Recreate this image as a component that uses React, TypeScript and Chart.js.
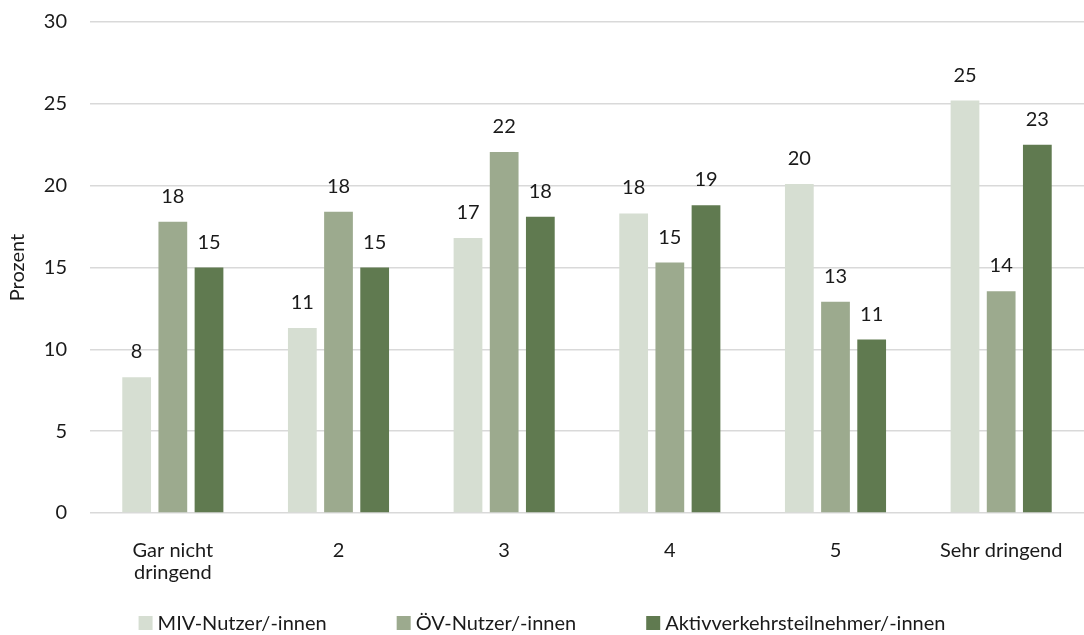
import React, { useEffect, useRef } from "react";
import { Chart, registerables } from "chart.js";

Chart.register(...registerables);

const categories: (string | string[])[] = [["Gar nicht", "dringend"], "2", "3", "4", "5", "Sehr dringend"];
const seriesNames = ["MIV-Nutzer/-innen", "ÖV-Nutzer/-innen", "Aktivverkehrsteilnehmer/-innen"];
const mivValues = [8.3, 11.3, 16.8, 18.3, 20.1, 25.2];
const oevValues = [17.8, 18.4, 22.05, 15.3, 12.9, 13.55];
const aktivValues = [15.0, 15.0, 18.1, 18.8, 10.6, 22.5];
const seriesColors = ["#D6DED2", "#9CAA8E", "#607A50"];
const yTicks = [0, 5, 10, 15, 20, 25, 30];

const FONT = "Lato, 'Open Sans', sans-serif";
const TEXT = "#1a1a1a";

const dataLabelPlugin = {
  id: "dataLabels",
  afterDatasetsDraw(chart: any) {
    const ctx = chart.ctx;
    ctx.save();
    ctx.font = `20px ${FONT}`;
    ctx.fillStyle = TEXT;
    ctx.textAlign = "center";
    ctx.textBaseline = "alphabetic";
    chart.data.datasets.forEach((ds: any, i: number) => {
      const meta = chart.getDatasetMeta(i);
      meta.data.forEach((bar: any, j: number) => {
        const v = ds.data[j];
        ctx.fillText(String(Math.round(v)), bar.x, bar.y - 19);
      });
    });
    ctx.restore();
  },
};

const legendPlugin = {
  id: "customLegend",
  afterDraw(chart: any) {
    const ctx = chart.ctx;
    ctx.save();
    ctx.font = `20px ${FONT}`;
    ctx.textBaseline = "middle";
    ctx.textAlign = "left";
    const box = 14;
    const gap = 5;
    const spacing = 70;
    const widths = seriesNames.map((n) => box + gap + ctx.measureText(n).width);
    const total = widths.reduce((a, b) => a + b, 0) + spacing * (seriesNames.length - 1);
    let x = chart.width / 2 - total / 2;
    const cy = 623;
    seriesNames.forEach((n, i) => {
      ctx.fillStyle = seriesColors[i];
      ctx.fillRect(x, cy - box / 2, box, box);
      ctx.fillStyle = TEXT;
      ctx.fillText(n, x + box + gap, cy + 1);
      x += widths[i] + spacing;
    });
    ctx.restore();
  },
};

export default function App() {
  const ref = useRef<HTMLCanvasElement>(null);
  useEffect(() => {
    document.body.style.margin = "0";
    const values = [mivValues, oevValues, aktivValues];
    const chart = new Chart(ref.current!, {
      type: "bar",
      data: {
        labels: categories,
        datasets: seriesNames.map((name, i) => ({
          label: name,
          data: values[i],
          backgroundColor: seriesColors[i],
          categoryPercentage: 0.655,
          barPercentage: 0.795,
        })),
      },
      options: {
        animation: false,
        responsive: false,
        maintainAspectRatio: false,
        layout: { padding: { top: 22, right: -8, left: 0, bottom: 0 } },
        plugins: {
          legend: { display: false },
          tooltip: { enabled: false },
        },
        scales: {
          x: {
            grid: { display: false },
            border: { display: false },
            ticks: {
              color: TEXT,
              font: { family: FONT, size: 20, lineHeight: 1.12 },
              padding: 18,
              maxRotation: 0,
              autoSkip: false,
            },
            afterFit: (s: any) => { s.height = 122; s.paddingTop = 0; },
          },
          y: {
            min: 0,
            max: 30,
            afterBuildTicks: (s: any) => { s.ticks = yTicks.map((v) => ({ value: v })); },
            grid: { color: "#D9D9D9", lineWidth: 1.5, drawTicks: false },
            border: { display: false },
            ticks: { color: TEXT, font: { family: FONT, size: 20 }, padding: 23 },
            title: {
              display: true,
              text: "Prozent",
              color: TEXT,
              font: { family: FONT, size: 20 },
              padding: { top: 6, bottom: 0 },
            },
            afterFit: (s: any) => { s.width = 90; s.paddingTop = 0; s.paddingBottom = 0; },
          },
        },
      },
      plugins: [dataLabelPlugin, legendPlugin],
    } as any);
    return () => chart.destroy();
  }, []);
  return <canvas ref={ref} width={1084} height={635} style={{ display: "block" }} />;
}
